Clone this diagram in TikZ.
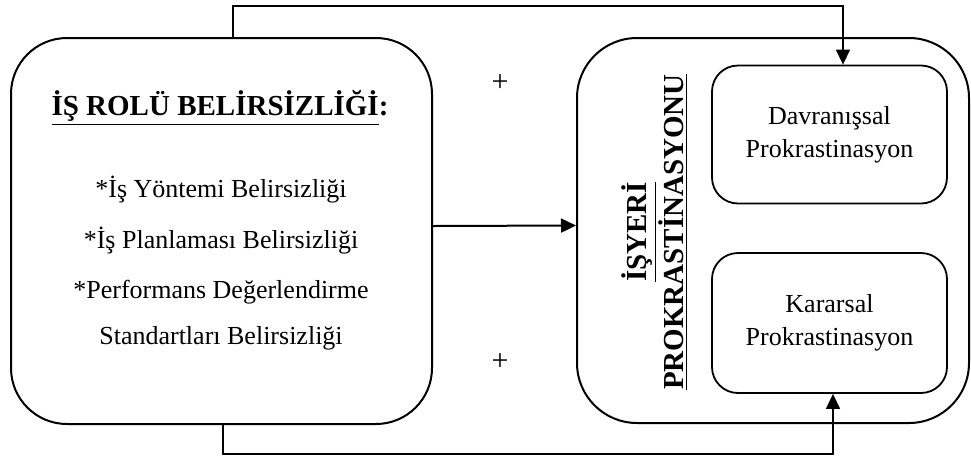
\documentclass[tikz,border=0pt]{standalone}
\usepackage{fontspec}
\setmainfont{Liberation Serif}
\usetikzlibrary{arrows.meta,positioning}

\begin{document}
\begin{tikzpicture}[x=0.5pt,y=-0.5pt,
    bigbox/.style={draw,line width=1pt,rounded corners=28pt,inner sep=0pt},
    smallbox/.style={draw,line width=0.9pt,rounded corners=13pt,minimum width=117.5pt,minimum height=69pt,align=center,font=\fontsize{13}{16.5}\selectfont},
    link/.style={line width=0.7pt,-{Triangle[length=7.5pt,width=7pt]}},
    plain/.style={font=\fontsize{13}{16}\selectfont}]

    \useasboundingbox (0,0) rectangle (971,457);

    % Left box: role ambiguity
    \node[bigbox,minimum width=210.5pt,minimum height=193pt] (role) at (221.5,231) {};
    \node[font=\bfseries\fontsize{14.5}{17}\selectfont] (title) at (220,108) {\underline{İŞ ROLÜ BELİRSİZLİĞİ}:};
    \node[plain] (r1) at (221,190) {*İş Yöntemi Belirsizliği};
    \node[plain] (r2) at (221,241) {*İş Planlaması Belirsizliği};
    \node[plain] (r3) at (221,292) {*Performans Değerlendirme};
    \node[plain] (r4) at (221,338) {Standartları Belirsizliği};

    % Right box: workplace procrastination
    \node[bigbox,rounded corners=30pt,minimum width=196pt,minimum height=192.5pt] (proc) at (773,230.5) {};
    \node[rotate=90,align=center,font=\bfseries\fontsize{14.5}{18.5}\selectfont] (ptitle) at (655,232) {\underline{İŞYERİ}\\\underline{PROKRASTİNASYONU}};
    \node[smallbox] (dav) at (829.5,134.5) {Davranışsal\\Prokrastinasyon};
    \node[smallbox,minimum height=70pt] (kar) at (829.5,323) {Kararsal\\Prokrastinasyon};

    % Signs
    \node[font=\fontsize{15}{18}\selectfont] (plus1) at (500,83) {+};
    \node[font=\fontsize{15}{18}\selectfont] (plus2) at (500,362) {+};

    % Connectors
    \coordinate (ctop) at (233,6);
    \coordinate (cbot) at (223,454);
    \draw[link] (role.north -| ctop) -- (ctop) -| ([xshift=6.75pt]dav.north);
    \draw[link] (role.south -| cbot) -- (cbot) -| ([xshift=1.75pt]kar.south);
    \draw[link,line width=1pt] ([yshift=2.5pt]role.east) -- ([yshift=2.5pt]proc.west);
\end{tikzpicture}
\end{document}
